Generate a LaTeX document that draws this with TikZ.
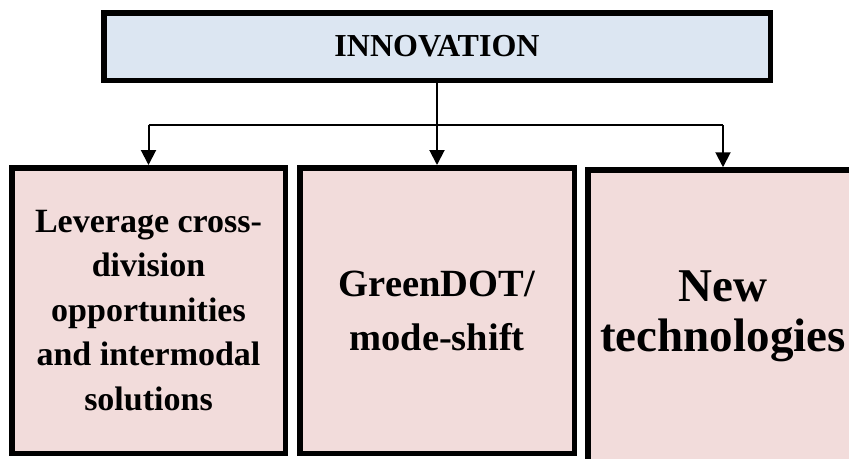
\documentclass[tikz,border=0pt]{standalone}
\usepackage{fontspec}
\setmainfont{Liberation Serif}
\usetikzlibrary{arrows.meta}
\definecolor{topfill}{HTML}{DCE6F2}
\definecolor{boxfill}{HTML}{F2DCDB}
\begin{document}
\begin{tikzpicture}[x=1pt,y=1pt,
  topbox/.style={draw=black,line width=5.5pt,fill=topfill,minimum width=666.5pt,minimum height=67.5pt,inner sep=0pt,font=\bfseries\fontsize{32}{38}\selectfont},
  subbox/.style={draw=black,line width=5.5pt,fill=boxfill,inner sep=0pt,align=center},
  conn/.style={line width=2pt,draw=black},
  arr/.style={conn,-{Triangle[width=15pt,length=15pt]}}]
\useasboundingbox (0,0) rectangle (849,-458);
\clip (0,0) rectangle (849,-458);
\node[topbox] (top) at (437,-46.5) {INNOVATION};
\node[subbox,minimum width=273.5pt,minimum height=285.5pt,font=\bfseries\fontsize{34}{44.5}\selectfont] (b1) at (148.5,-310.5)
  {Leverage cross-\\division\\opportunities\\and intermodal\\solutions};
\node[subbox,minimum width=274.5pt,minimum height=285.5pt,font=\bfseries\fontsize{38.5}{54}\selectfont] (b2) at (437,-310.5)
  {GreenDOT/\\mode-shift};
\node[subbox,minimum width=270.5pt,minimum height=292pt,font=\bfseries\fontsize{47}{50}\selectfont] (b3) at (723,-316)
  {New\\technologies};
\coordinate (j) at (437,-125);
\draw[conn] (top.south) -- (j);
\draw[conn] (b1.north |- j) -- (b3.north |- j);
\draw[arr] (b1.north |- j) -- (b1.north);
\draw[arr] (j) -- (b2.north);
\draw[arr] (b3.north |- j) -- (b3.north);
\end{tikzpicture}
\end{document}
